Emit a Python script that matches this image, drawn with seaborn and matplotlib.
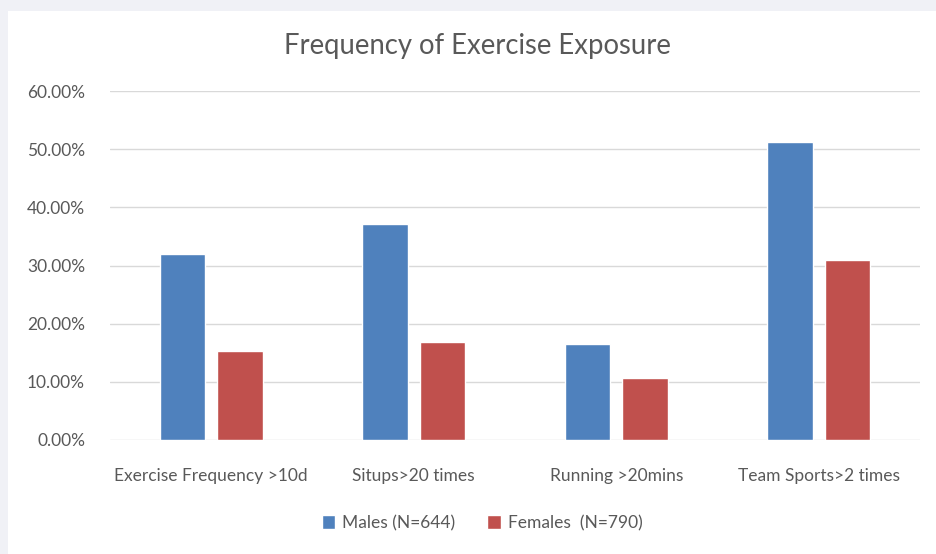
import matplotlib
matplotlib.use("Agg")
import matplotlib.pyplot as plt
import seaborn as sns
import pandas as pd
from matplotlib.patches import Rectangle
from matplotlib.ticker import FuncFormatter

categories = ["Exercise Frequency >10d", "Situps>20 times", "Running >20mins", "Team Sports>2 times"]
males = [32.0, 37.2, 16.5, 51.2]
females = [15.3, 16.9, 10.7, 31.0]
groups = ["Males (N=644)", "Females  (N=790)"]
colors = ["#4F81BD", "#C0504D"]

df = pd.DataFrame({
    "category": categories * 2,
    "value": males + females,
    "group": [groups[0]] * 4 + [groups[1]] * 4,
})

sns.set_theme(style="white")
plt.rcParams["font.family"] = ["Lato", "DejaVu Sans"]
txt = "#595959"

fig = plt.figure(figsize=(9.36, 5.54), dpi=100, facecolor="#F0F1F6")
# white chart panel inside the grey frame
fig.patches.append(Rectangle((8 / 936, 0), 1, 1 - 11 / 554, transform=fig.transFigure,
                             facecolor="white", edgecolor="none", zorder=-10))

ax = fig.add_axes([110 / 936, 114 / 554, 810 / 936, 349 / 554])
ax.set_facecolor("none")
sns.barplot(data=df, x="category", y="value", hue="group", palette=colors,
            width=0.568, gap=0.21, ax=ax, legend=False, saturation=1)

ax.set_ylim(0, 60)
ax.set_yticks(range(0, 61, 10))
ax.yaxis.set_major_formatter(FuncFormatter(lambda v, p: f"{v:.2f}%"))
ax.grid(axis="y", color="#D9D9D9", linewidth=1)
ax.set_axisbelow(True)
for s in ax.spines.values():
    s.set_visible(False)
ax.set_xlabel("")
ax.set_ylabel("")
ax.tick_params(axis="y", length=0, pad=18, labelsize=12.5, labelcolor=txt)
ax.tick_params(axis="x", length=0, pad=20, labelsize=12.5, labelcolor=txt)
ax.set_xlim(-0.5, 3.5)

fig.text(477 / 936, 1 - 46 / 554, "Frequency of Exercise Exposure", ha="center", va="center",
         fontsize=19.8, color=txt)

handles = [Rectangle((0, 0), 1, 1, facecolor=c) for c in colors]
fig.legend(handles, groups, loc="center", bbox_to_anchor=(482 / 936, 1 - 523 / 554),
           ncol=2, frameon=False, fontsize=12.5, labelcolor=txt, handlelength=0.8,
           handleheight=0.8, handletextpad=0.4, columnspacing=1.8)

fig.savefig("out.png", dpi=100, facecolor=fig.get_facecolor())
